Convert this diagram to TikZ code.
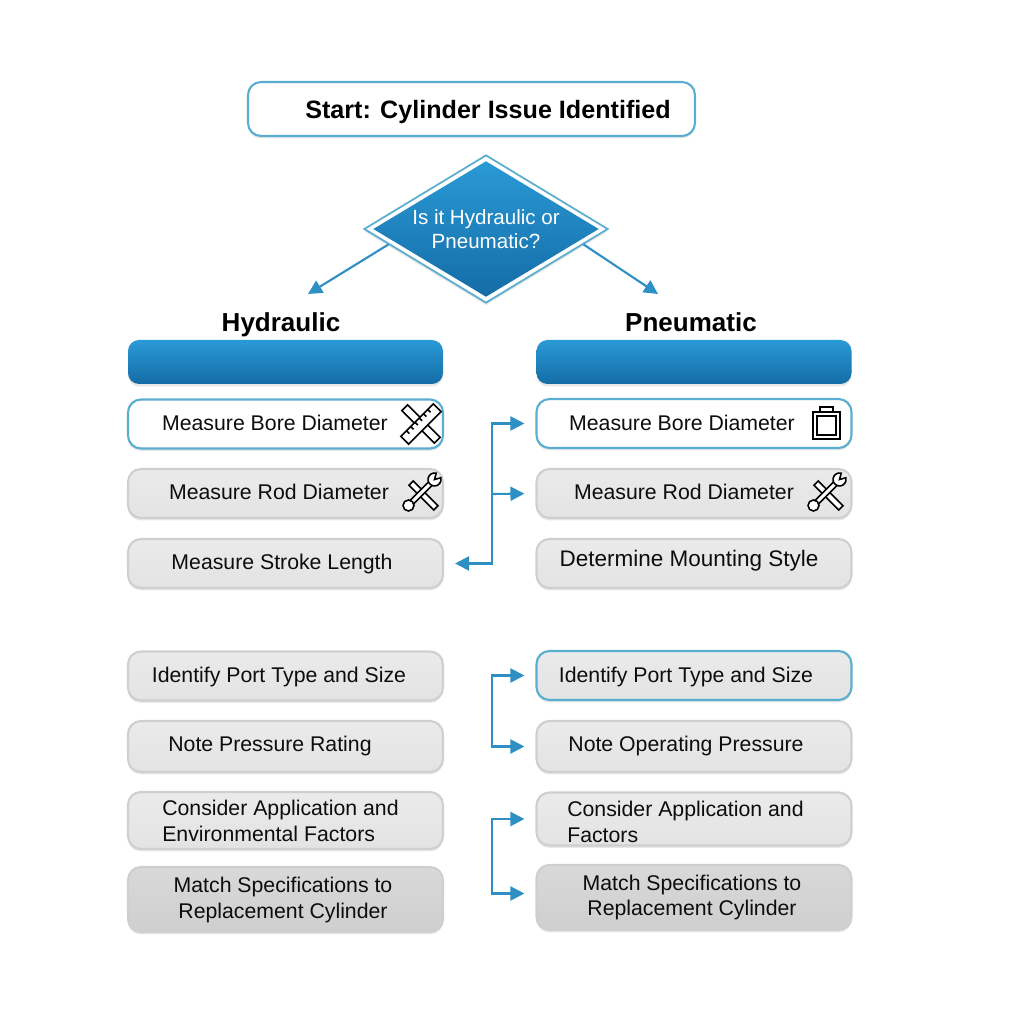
\documentclass[tikz,border=0pt]{standalone}
\usepackage{fontspec}
\setmainfont{Liberation Sans}
\usetikzlibrary{shapes.geometric,arrows.meta,shadows}
\definecolor{flowblue}{HTML}{2E8FC4}
\definecolor{edgeblue}{HTML}{5AAECF}
\definecolor{edgegrey}{HTML}{CFCFCF}
\definecolor{headtop}{HTML}{2A9AD6}
\definecolor{headmid}{HTML}{258FCB}
\definecolor{headlow}{HTML}{146CA6}
\tikzset{
    softshadow/.style={drop shadow={shadow xshift=0cm,shadow yshift=-0.025cm,opacity=.09,fill=black}},
    whitebox/.style={draw=edgeblue,line width=0.6pt,rounded corners=1.3mm,fill=white,minimum width=3.15cm,minimum height=0.49cm,softshadow},
    greybox/.style={draw=edgegrey,line width=0.6pt,rounded corners=1.3mm,top color=black!8,bottom color=black!11,minimum width=3.15cm,minimum height=0.49cm,softshadow},
    darkbox/.style={greybox,top color=black!15,bottom color=black!19,minimum height=0.65cm},
    headbox/.style={rounded corners=1.1mm,top color=headtop,bottom color=headlow,minimum width=3.15cm,minimum height=0.44cm,softshadow},
    boxtext/.style={font=\fontsize{6.05}{7.2}\selectfont,text=black!95,align=center,inner sep=0pt},
    sidetext/.style={boxtext,align=left},
    coltitle/.style={font=\fontsize{7.4}{9}\bfseries\selectfont,inner sep=0pt,text height=2mm,text depth=0.6mm},
    flow/.style={draw=flowblue,line width=0.6pt,-{Triangle[length=1.4mm,width=1.4mm]}},
    twoflow/.style={draw=flowblue,line width=0.6pt,{Triangle[length=1.4mm,width=1.4mm]}-{Triangle[length=1.4mm,width=1.4mm]},shorten <=0.11cm,shorten >=0.11cm},
    ruler/.pic={
        \begin{scope}[line width=0.45pt,rotate=45]
            \draw[fill=white] (-0.04,-0.23) rectangle (0.04,0.23);
        \end{scope}
        \begin{scope}[line width=0.45pt,rotate=-45]
            \draw[fill=white] (-0.055,-0.23) rectangle (0.055,0.23);
            \foreach \t in {-0.15,-0.09,-0.03,0.03,0.09,0.15} \draw (-0.055,\t) -- (-0.015,\t);
        \end{scope}
    },
    wrench/.pic={
        \begin{scope}[line width=0.45pt]
            \draw[fill=white,rotate=45] (-0.03,-0.21) rectangle (0.03,0.14);
            \draw[fill=white,rotate=-45] (-0.025,-0.2) rectangle (0.025,0.2);
            \draw[fill=white] (-0.125,-0.125) circle (0.055);
            \draw[fill=white] (0.152,0.198) arc (75:375:0.065) -- (0.135,0.135) -- cycle;
        \end{scope}
    }
}
\begin{document}
\begin{tikzpicture}
    \useasboundingbox (0,0) rectangle (10.24,10.24);
    % start and question
    \node[whitebox,minimum width=4.47cm,minimum height=0.54cm] (start) at (4.715,9.15) {};
    \node[coltitle,font=\fontsize{7.15}{9}\bfseries\selectfont] (startt) at (4.88,9.12) {Start: Cylinder Issue Identified};
    \node[diamond,draw=edgeblue,fill=white,line width=0.5pt,minimum width=2.44cm,minimum height=1.48cm,inner sep=0pt,softshadow] (decide) at (4.86,7.95) {};
    \node[diamond,top color=headtop,middle color=headmid,bottom color=headlow,minimum width=2.26cm,minimum height=1.36cm,inner sep=0pt] (decidein) at (4.86,7.95) {};
    \node[boxtext,text=white,font=\fontsize{5.85}{6.7}\selectfont] (decidet) at (4.86,7.95) {Is it Hydraulic or\\Pneumatic?};
    \coordinate (hydend) at (3.08,7.30);
    \coordinate (pneend) at (6.58,7.30);
    \draw[flow] (decide.189) -- (hydend);
    \draw[flow] (decide.351) -- (pneend);
    % column heads
    \node[coltitle] (hyd) at (2.81,6.99) {Hydraulic};
    \node[coltitle] (pne) at (6.91,6.99) {Pneumatic};
    \node[headbox] (hhead) at (2.855,6.62) {};
    \node[headbox] (phead) at (6.94,6.62) {};
    % hydraulic side
    \node[whitebox] (hbore) at (2.855,6.00) {};
    \node[boxtext] at (2.75,6.01) {Measure Bore Diameter};
    \pic at (4.21,6.00) {ruler};
    \node[greybox] (hrod) at (2.855,5.305) {};
    \node[boxtext] at (2.79,5.32) {Measure Rod Diameter};
    \pic at (4.21,5.31) {wrench};
    \node[greybox] (hstroke) at (2.855,4.605) {};
    \node[boxtext] at (2.82,4.60) {Measure Stroke Length};
    \node[greybox] (hport) at (2.855,3.48) {};
    \node[boxtext] at (2.79,3.47) {Identify Port Type and Size};
    \node[greybox,minimum height=0.51cm] (hpress) at (2.855,2.775) {};
    \node[boxtext] at (2.70,2.78) {Note Pressure Rating};
    \node[greybox,minimum height=0.57cm] (hcons) at (2.855,2.035) {};
    \node[sidetext] at (2.805,2.03) {Consider Application and\\Environmental Factors};
    \node[darkbox] (hmatch) at (2.855,1.245) {};
    \node[boxtext] at (2.83,1.24) {Match Specifications to\\Replacement Cylinder};
    % pneumatic side
    \node[whitebox] (rbore) at (6.94,6.005) {};
    \node[boxtext] at (6.82,6.01) {Measure Bore Diameter};
    \draw[line width=0.5pt] (8.13,5.85) rectangle (8.40,6.12) (8.17,5.89) rectangle (8.36,6.08) (8.20,6.12) -- (8.20,6.17) -- (8.33,6.17) -- (8.33,6.12);
    \node[greybox] (rrod) at (6.94,5.305) {};
    \node[boxtext] at (6.84,5.32) {Measure Rod Diameter};
    \pic at (8.26,5.31) {wrench};
    \node[greybox] (rmount) at (6.94,4.605) {};
    \node[boxtext,font=\fontsize{6.4}{7.2}\selectfont] at (6.89,4.63) {Determine Mounting Style};
    \node[whitebox,top color=black!8,bottom color=black!11] (rport) at (6.94,3.485) {};
    \node[boxtext] at (6.86,3.47) {Identify Port Type and Size};
    \node[greybox,minimum height=0.51cm] (rpress) at (6.94,2.775) {};
    \node[boxtext] at (6.86,2.78) {Note Operating Pressure};
    \node[greybox,minimum height=0.53cm] (rcons) at (6.94,2.05) {};
    \node[sidetext] at (6.855,2.02) {Consider Application and\\Factors};
    \node[darkbox] (rmatch) at (6.94,1.265) {};
    \node[boxtext] at (6.92,1.265) {Match Specifications to\\Replacement Cylinder};
    % connectors
    \coordinate (upper) at (4.92,5.30);
    \coordinate (portfork) at (4.92,3.13);
    \coordinate (consfork) at (4.92,1.67);
    \draw[flow,shorten >=0.11cm] (upper) |- (rbore.west);
    \draw[flow,shorten >=0.11cm] (upper) -- (rrod.west);
    \draw[flow,shorten >=0.11cm] (upper) |- (hstroke.east);
    \draw[twoflow] (rport.west) -| (portfork) |- (rpress.west);
    \draw[twoflow] (rcons.west) -| (consfork) |- ([yshift=0.04cm]rmatch.west);
\end{tikzpicture}
\end{document}
